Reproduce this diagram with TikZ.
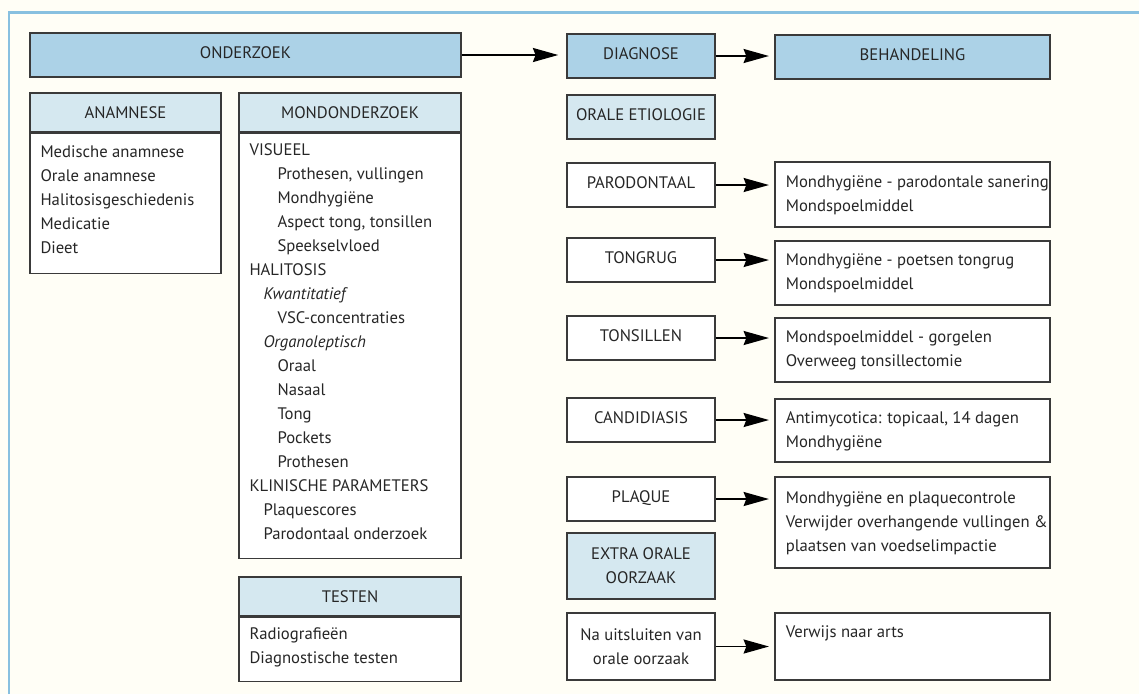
\documentclass[tikz,border=0pt]{standalone}
\usepackage{fontspec}
\setmainfont{PT Sans}
\usetikzlibrary{arrows.meta,positioning}

\definecolor{headblue}{HTML}{ACD2E7}
\definecolor{lightblue}{HTML}{D5E8F0}
\definecolor{framecol}{HTML}{88C0E0}
\definecolor{paper}{HTML}{FFFEF6}
\definecolor{boxline}{HTML}{3A3A3A}
\definecolor{ink}{HTML}{262626}

\newcommand{\indA}{\hspace*{21pt}}
\newcommand{\indB}{\hspace*{10.5pt}}
% left-aligned lines in a fixed-width box, never broken
\newcommand{\treatlines}[1]{\makebox[190pt][l]{\begin{tabular}{@{}l@{}}#1\end{tabular}}}

\tikzset{
  every node/.style={font=\fontsize{12.5}{18}\selectfont, text=ink},
  box/.style={draw=boxline, line width=1.1pt, fill=white, inner sep=0pt},
  mainbox/.style={box, fill=headblue, minimum height=33pt, text depth=4pt},
  headbox/.style={box, fill=lightblue, minimum height=29.25pt},
  etio/.style={box, minimum width=111pt, minimum height=33pt, text depth=4pt},
  advice/.style={box, inner xsep=8.1pt},
  itemlist/.style={align=left, inner sep=0pt},
  flow/.style={->, line width=1.4pt, draw=black},
}

\begin{document}
\begin{tikzpicture}[x=0.75pt, y=-0.75pt, >={Stealth[length=19pt, width=10.5pt, inset=2pt]}]

\fill [paper] (0,0) rectangle (1139,694);
\useasboundingbox (0,0) rectangle (1139,694);
\draw [framecol, line width=1.6pt] (9,694) -- (9,12.5) -- (1139,12.5);

% top row
\node [mainbox, minimum width=323.25pt] (onderzoek) at (245.5,55) {ONDERZOEK};
\node [mainbox, minimum width=111pt] (diagnose) at (641,56) {DIAGNOSE};
\node [mainbox, minimum width=206.25pt] (behandeling) at (912.5,57) {BEHANDELING};

\draw [flow, shorten >=6pt] (onderzoek.east) -- (diagnose.west |- onderzoek.east);
\draw [flow, shorten >=4pt] (diagnose.east) -- (behandeling.west |- diagnose.east);

% anamnese
\node [headbox, minimum width=143.25pt] (anamnese) at (125.5,112.5) {ANAMNESE};
\node [box, minimum width=143.25pt, minimum height=105pt, below=0pt of anamnese] (anamnese-body) {};
\node [itemlist, below right=9.75pt and 8.25pt of anamnese-body.north west] (anamnese-list)
  {Medische anamnese\\Orale anamnese\\Halitosisgeschiedenis\\Medicatie\\Dieet};

% mondonderzoek
\node [headbox, minimum width=166.5pt] (mond) at (350,112.5) {MONDONDERZOEK};
\node [box, minimum width=166.5pt, minimum height=318.75pt, below=0pt of mond] (mond-body) {};
\node [itemlist, below right=8.25pt and 8.25pt of mond-body.north west] (mond-list)
  {VISUEEL\\
   \indA Prothesen, vullingen\\
   \indA Mondhygiëne\\
   \indA Aspect tong, tonsillen\\
   \indA Speekselvloed\\
   HALITOSIS\\
   \indB\textit{Kwantitatief}\\
   \indA VSC-concentraties\\
   \indB\textit{Organoleptisch}\\
   \indA Oraal\\
   \indA Nasaal\\
   \indA Tong\\
   \indA Pockets\\
   \indA Prothesen\\
   KLINISCHE PARAMETERS\\
   \indB Plaquescores\\
   \indB Parodontaal onderzoek};

% testen
\node [headbox, minimum width=166.5pt] (testen) at (350,596.5) {TESTEN};
\node [box, minimum width=166.5pt, minimum height=48pt, below=0pt of testen] (testen-body) {};
\node [itemlist, below right=8.25pt and 8.25pt of testen-body.north west] (testen-list)
  {Radiografieën\\Diagnostische testen};

% diagnose column
\node [etio, fill=lightblue] (etiologie) at (641,117) {ORALE ETIOLOGIE};

\foreach \l/\y [count=\i] in {PARODONTAAL/185, TONGRUG/260, TONSILLEN/338, CANDIDIASIS/420, PLAQUE/499}
  \node [etio] (etio-\i) at (641,\y) {\l};

\node [box, fill=lightblue, minimum width=111pt, minimum height=49.5pt, align=center] (extra) at (641,566)
  {EXTRA ORALE\\OORZAAK};
\node [box, minimum width=111pt, minimum height=50.25pt, align=center] (etio-6) at (641,646.5)
  {Na uitsluiten van\\orale oorzaak};

% behandeling column
\foreach \l/\y/\h [count=\i] in {
    {Mondhygiëne - parodontale sanering\\Mondspoelmiddel}/194.5/48.75pt,
    {Mondhygiëne - poetsen tongrug\\Mondspoelmiddel}/273/48pt,
    {Mondspoelmiddel - gorgelen\\Overweeg tonsillectomie}/350/48pt,
    {Antimycotica: topicaal, 14 dagen\\Mondhygiëne}/430.5/47.25pt,
    {Mondhygiëne en plaquecontrole\\Verwijder overhangende vullingen \&\\plaatsen van voedselimpactie}/522.5/68.25pt}
  \node [advice, minimum height=\h] (advice-\i) at (912.5,\y) {\treatlines{\l}};

\node [advice, minimum height=50.25pt, inner ysep=6pt, text depth=26pt] (advice-6) at (912.5,646.5)
  {\treatlines{Verwijs naar arts}};

\foreach \i in {1,...,6}
  \draw [flow, shorten >=4pt] (etio-\i.east) -- (advice-\i.west |- etio-\i.east);

\end{tikzpicture}
\end{document}
